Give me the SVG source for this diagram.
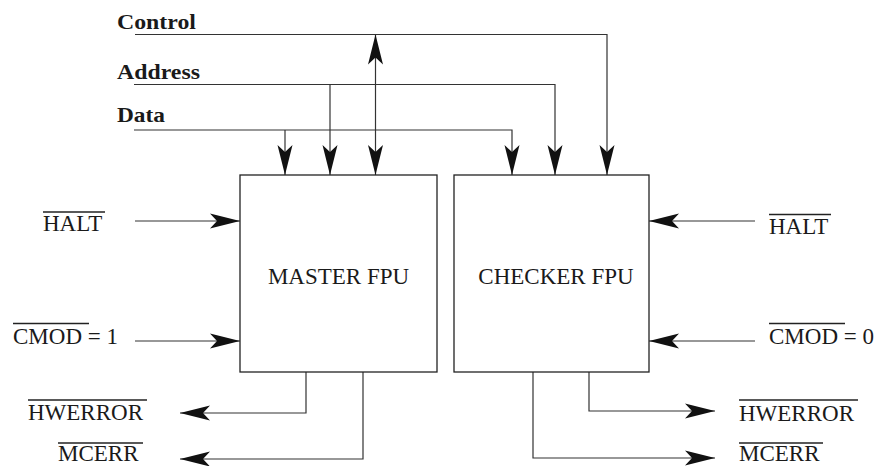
<svg xmlns="http://www.w3.org/2000/svg" width="876" height="466" viewBox="0 0 876 466">
<style>
.bg{fill:#ffffff}
.box{fill:#ffffff;stroke:#222;stroke-width:1.3}
.w{fill:none;stroke:#333;stroke-width:1.2}
.ov{stroke:#222;stroke-width:1.4}
.t{font-family:"Liberation Serif","Times New Roman",serif;font-size:23px;fill:#1a1a1a}
.b{font-family:"Liberation Serif","Times New Roman",serif;font-size:22px;font-weight:bold;fill:#1a1a1a}
</style>
<defs>
<marker id="ah" markerUnits="userSpaceOnUse" markerWidth="34" markerHeight="20" viewBox="-31 -10 34 20" refX="0" refY="0" orient="auto">
<path d="M0,0 L-30,-7.5 L-23,0 L-30,7.5 Z" fill="#111"/>
</marker>
<marker id="ahs" markerUnits="userSpaceOnUse" markerWidth="34" markerHeight="20" viewBox="-31 -10 34 20" refX="0" refY="0" orient="auto-start-reverse">
<path d="M0,0 L-30,-7.5 L-23,0 L-30,7.5 Z" fill="#111"/>
</marker>
</defs>
<rect class="bg" x="0" y="0" width="876" height="466"/>

<g id="connectors">
<path class="w" d="M135,34.5 H607 V175" marker-end="url(#ah)"/>
<path class="w" d="M375.5,34.5 V175" marker-start="url(#ahs)" marker-end="url(#ah)"/>
<path class="w" d="M134,84.5 H555 V175" marker-end="url(#ah)"/>
<path class="w" d="M330,84.5 V175" marker-end="url(#ah)"/>
<path class="w" d="M134,130 H512 V175" marker-end="url(#ah)"/>
<path class="w" d="M285,130 V175" marker-end="url(#ah)"/>
<path class="w" d="M135,221 H240" marker-end="url(#ah)"/>
<path class="w" d="M135,341 H240" marker-end="url(#ah)"/>
<path class="w" d="M755,221 H649" marker-end="url(#ah)"/>
<path class="w" d="M755,341 H649" marker-end="url(#ah)"/>
<path class="w" d="M306,372 V413 H180" marker-end="url(#ah)"/>
<path class="w" d="M363,372 V459 H180" marker-end="url(#ah)"/>
<path class="w" d="M589,372 V411 H715" marker-end="url(#ah)"/>
<path class="w" d="M533,372 V458 H715" marker-end="url(#ah)"/>
</g>

<g id="master">
<rect class="box" x="240" y="175" width="197" height="197"/>
<text class="t" x="338.5" y="283.5" text-anchor="middle">MASTER FPU</text>
</g>
<g id="checker">
<rect class="box" x="454" y="175" width="195" height="197"/>
<text class="t" x="556" y="283.5" text-anchor="middle">CHECKER FPU</text>
</g>

<g id="labels">
<text class="b" x="117" y="28.5" textLength="79" lengthAdjust="spacingAndGlyphs">Control</text>
<text class="b" x="117" y="78.5" textLength="83" lengthAdjust="spacingAndGlyphs">Address</text>
<text class="b" x="117" y="122" textLength="48" lengthAdjust="spacingAndGlyphs">Data</text>

<text class="t" x="43" y="231">HALT</text>
<line class="ov" x1="43" y1="212" x2="105" y2="212"/>
<text class="t" x="769" y="234">HALT</text>
<line class="ov" x1="769" y1="214.5" x2="831" y2="214.5"/>

<text class="t" x="13" y="343.5">CMOD = 1</text>
<line class="ov" x1="13" y1="323.5" x2="89" y2="323.5"/>
<text class="t" x="769" y="344">CMOD = 0</text>
<line class="ov" x1="769" y1="323.5" x2="845" y2="323.5"/>

<text class="t" x="28" y="420">HWERROR</text>
<line class="ov" x1="28" y1="400" x2="147" y2="400"/>
<text class="t" x="58" y="461">MCERR</text>
<line class="ov" x1="58" y1="443" x2="143" y2="443"/>

<text class="t" x="739" y="421">HWERROR</text>
<line class="ov" x1="739" y1="400" x2="858" y2="400"/>
<text class="t" x="739" y="461">MCERR</text>
<line class="ov" x1="739" y1="443" x2="823" y2="443"/>
</g>
</svg>
